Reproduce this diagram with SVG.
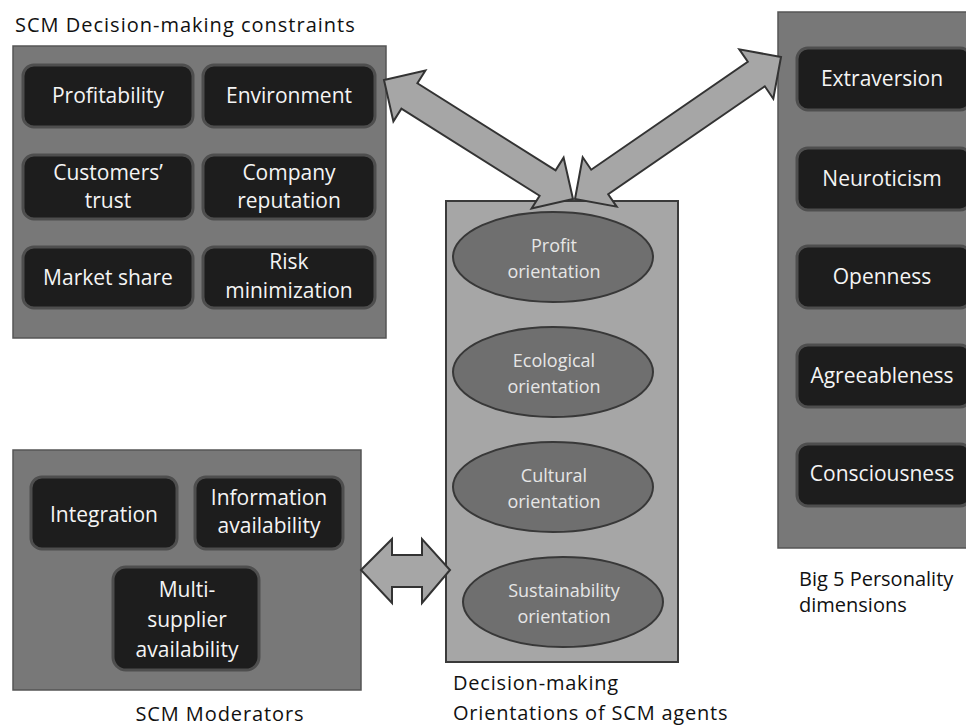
<svg xmlns="http://www.w3.org/2000/svg" width="966" height="728" viewBox="0 0 966 728">
<style>
.outer{fill:#787878;stroke:#555;stroke-width:1.5}
.inner{fill:#1d1d1d;stroke:#4e4e4e;stroke-width:3}
.wt{fill:#f4f4f4;font-family:"Open Sans",sans-serif;font-size:21px;text-anchor:middle}
.et{fill:#e6e6e6;font-family:"Open Sans",sans-serif;font-size:18px;text-anchor:middle}
.lbl{fill:#111;font-family:"Open Sans",sans-serif;font-size:20px}
.ell{fill:#6f6f6f;stroke:#383838;stroke-width:2}
.arr{fill:#a6a6a6;stroke:#333;stroke-width:2;stroke-linejoin:miter}
</style>
<rect width="966" height="728" fill="#fff"/>

<g id="constraints">
<text class="lbl" x="15" y="32" font-size="20.5" letter-spacing="1">SCM Decision-making constraints</text>
<rect class="outer" x="13" y="46" width="373" height="292"/>
<g id="profitability"><rect class="inner" x="23" y="65" width="170" height="62" rx="11"/><text class="wt" x="108" y="103">Profitability</text></g>
<g id="environment"><rect class="inner" x="203" y="65" width="172" height="62" rx="11"/><text class="wt" x="289" y="103">Environment</text></g>
<g id="customers-trust"><rect class="inner" x="23" y="155" width="170" height="64" rx="11"/><text class="wt" x="108" y="180">Customers’</text><text class="wt" x="108" y="208">trust</text></g>
<g id="company-reputation"><rect class="inner" x="203" y="155" width="172" height="64" rx="11"/><text class="wt" x="289" y="180">Company</text><text class="wt" x="289" y="208">reputation</text></g>
<g id="market-share"><rect class="inner" x="23" y="247" width="170" height="61" rx="11"/><text class="wt" x="108" y="285">Market share</text></g>
<g id="risk-minimization"><rect class="inner" x="203" y="247" width="172" height="61" rx="11"/><text class="wt" x="289" y="269">Risk</text><text class="wt" x="289" y="298">minimization</text></g>
</g>

<g id="moderators">
<rect class="outer" x="13" y="450" width="348" height="240"/>
<g id="integration"><rect class="inner" x="31" y="477" width="146" height="72" rx="11"/><text class="wt" x="104" y="522">Integration</text></g>
<g id="information-availability"><rect class="inner" x="195" y="477" width="148" height="72" rx="11"/><text class="wt" x="269" y="505">Information</text><text class="wt" x="269" y="533">availability</text></g>
<g id="multi-supplier"><rect class="inner" x="113" y="567" width="146" height="103" rx="13"/><text class="wt" x="187" y="597">Multi-</text><text class="wt" x="187" y="627">supplier</text><text class="wt" x="187" y="657">availability</text></g>
<text class="lbl" x="220" y="721" text-anchor="middle" letter-spacing="0.9">SCM Moderators</text>
</g>

<g id="orientations">
<rect x="446" y="201" width="232" height="461" fill="#a6a6a6" stroke="#3a3a3a" stroke-width="2"/>
<g id="profit-orientation"><ellipse class="ell" cx="553" cy="257" rx="100" ry="45"/><text class="et" x="554" y="252">Profit</text><text class="et" x="554" y="278">orientation</text></g>
<g id="ecological-orientation"><ellipse class="ell" cx="553" cy="372" rx="100" ry="45"/><text class="et" x="554" y="367">Ecological</text><text class="et" x="554" y="393">orientation</text></g>
<g id="cultural-orientation"><ellipse class="ell" cx="553" cy="487" rx="100" ry="45"/><text class="et" x="554" y="482">Cultural</text><text class="et" x="554" y="508">orientation</text></g>
<g id="sustainability-orientation"><ellipse class="ell" cx="563" cy="602" rx="100" ry="45"/><text class="et" x="564" y="597">Sustainability</text><text class="et" x="564" y="623">orientation</text></g>
<text class="lbl" x="453" y="690" letter-spacing="0.8">Decision-making</text>
<text class="lbl" x="453" y="720" letter-spacing="0.8">Orientations of SCM agents</text>
</g>

<g id="big5">
<rect class="outer" x="778" y="12" width="200" height="536"/>
<g id="extraversion"><rect class="inner" x="797" y="48" width="174" height="62" rx="11"/><text class="wt" x="882" y="86">Extraversion</text></g>
<g id="neuroticism"><rect class="inner" x="797" y="148" width="174" height="62" rx="11"/><text class="wt" x="882" y="186">Neuroticism</text></g>
<g id="openness"><rect class="inner" x="797" y="246" width="174" height="62" rx="11"/><text class="wt" x="882" y="284">Openness</text></g>
<g id="agreeableness"><rect class="inner" x="797" y="345" width="174" height="62" rx="11"/><text class="wt" x="882" y="383">Agreeableness</text></g>
<g id="consciousness"><rect class="inner" x="797" y="444" width="174" height="62" rx="11"/><text class="wt" x="882" y="481">Consciousness</text></g>
<text class="lbl" x="799" y="586">Big 5 Personality</text>
<text class="lbl" x="799" y="612">dimensions</text>
</g>

<g id="connectors">
<polygon class="arr" points="384,80 393.4,121.4 401.4,108.7 539.6,195.7 531.6,208.4 573,199 563.6,157.6 555.6,170.3 417.4,83.3 425.4,70.6"/>
<polygon class="arr" points="781,57 739.3,49.3 747.8,61.7 591.2,169.7 582.7,157.3 575,199 616.7,206.7 608.2,194.3 764.8,86.3 773.3,98.7"/>
<polygon class="arr" points="361,570 392,539 392,555 422,555 422,539 450,570 422,603 422,587 392,587 392,603"/>
</g>
</svg>
